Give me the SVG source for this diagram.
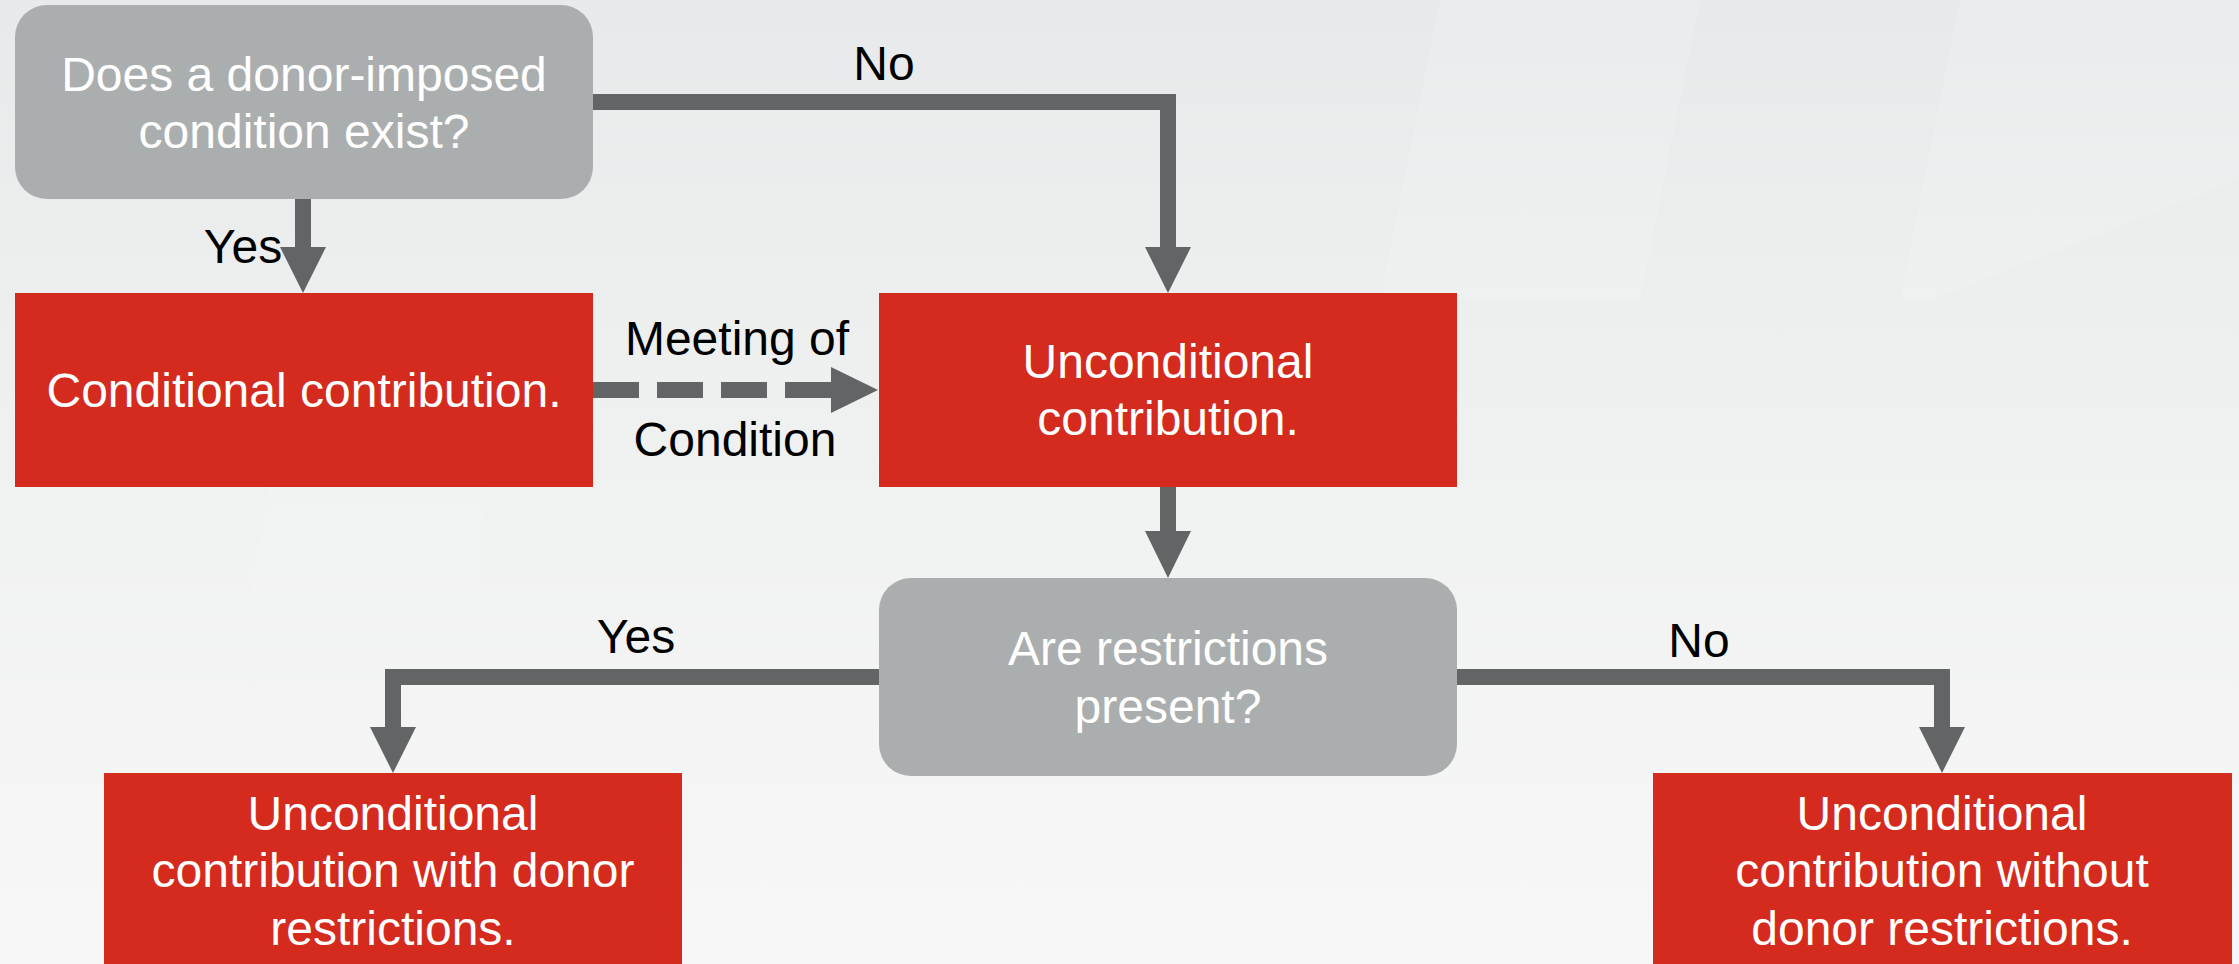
<svg xmlns="http://www.w3.org/2000/svg" width="2239" height="964" viewBox="0 0 2239 964">
  <defs>
    <linearGradient id="bg" x1="0" y1="0" x2="0" y2="1">
      <stop offset="0" stop-color="#e8e9ea"/>
      <stop offset="0.5" stop-color="#f0f1f1"/>
      <stop offset="1" stop-color="#f7f7f7"/>
    </linearGradient>
    <style>
      .red { fill: #d52a1e; }
      .gray { fill: #abaeae; }
      .wt { fill: #ffffff; font-family: "Liberation Sans", Arial, sans-serif; font-size: 48px; text-anchor: middle; }
      .bt { fill: #000000; font-family: "Liberation Sans", Arial, sans-serif; font-size: 48px; text-anchor: middle; }
      .line { fill: none; stroke: #636466; stroke-width: 16; stroke-linejoin: miter; }
      .dash { fill: none; stroke: #636466; stroke-width: 16; stroke-dasharray: 46 18; }
      .head { fill: #636466; }
    </style>
  </defs>
  <rect width="2239" height="964" fill="url(#bg)"/>
  <g opacity="0.12" fill="#ffffff">
    <polygon points="1440,0 1700,0 1640,300 1380,300"/>
    <polygon points="1960,0 2239,0 2239,180 1930,300 1900,300"/>
    <polygon points="300,300 520,300 470,600 250,600"/>
  </g>

  <g id="connectors">
    <path class="line" d="M303,199 V248"/>
    <polygon class="head" points="280,247 326,247 303,293"/>
    <path class="line" d="M593,102 H1168 V248"/>
    <polygon class="head" points="1145,247 1191,247 1168,293"/>
    <path class="dash" d="M593,390 H831"/>
    <polygon class="head" points="831,367 878,390 831,413"/>
    <path class="line" d="M1168,487 V532"/>
    <polygon class="head" points="1145,531 1191,531 1168,578"/>
    <path class="line" d="M879,677 H393 V728"/>
    <polygon class="head" points="370,727 416,727 393,773"/>
    <path class="line" d="M1457,677 H1942 V728"/>
    <polygon class="head" points="1919,727 1965,727 1942,773"/>
    <text class="bt" x="884" y="80">No</text>
    <text class="bt" x="243" y="263">Yes</text>
    <text class="bt" x="737" y="355">Meeting of</text>
    <text class="bt" x="735" y="456">Condition</text>
    <text class="bt" x="636" y="653">Yes</text>
    <text class="bt" x="1699" y="657">No</text>
  </g>

  <g id="q1">
    <rect class="gray" x="15" y="5" width="578" height="194" rx="32" ry="32"/>
    <text class="wt" x="304" y="91">Does a donor-imposed</text>
    <text class="wt" x="304" y="148">condition exist?</text>
  </g>
  <g id="conditional">
    <rect class="red" x="15" y="293" width="578" height="194"/>
    <text class="wt" x="304" y="407">Conditional contribution.</text>
  </g>
  <g id="unconditional">
    <rect class="red" x="879" y="293" width="578" height="194"/>
    <text class="wt" x="1168" y="378">Unconditional</text>
    <text class="wt" x="1168" y="435">contribution.</text>
  </g>
  <g id="q2">
    <rect class="gray" x="879" y="578" width="578" height="198" rx="32" ry="32"/>
    <text class="wt" x="1168" y="665">Are restrictions</text>
    <text class="wt" x="1168" y="723">present?</text>
  </g>
  <g id="with-restrictions">
    <rect class="red" x="104" y="773" width="578" height="200"/>
    <text class="wt" x="393" y="830">Unconditional</text>
    <text class="wt" x="393" y="887">contribution with donor</text>
    <text class="wt" x="393" y="945">restrictions.</text>
  </g>
  <g id="without-restrictions">
    <rect class="red" x="1653" y="773" width="579" height="200"/>
    <text class="wt" x="1942" y="830">Unconditional</text>
    <text class="wt" x="1942" y="887">contribution without</text>
    <text class="wt" x="1942" y="945">donor restrictions.</text>
  </g>
</svg>
